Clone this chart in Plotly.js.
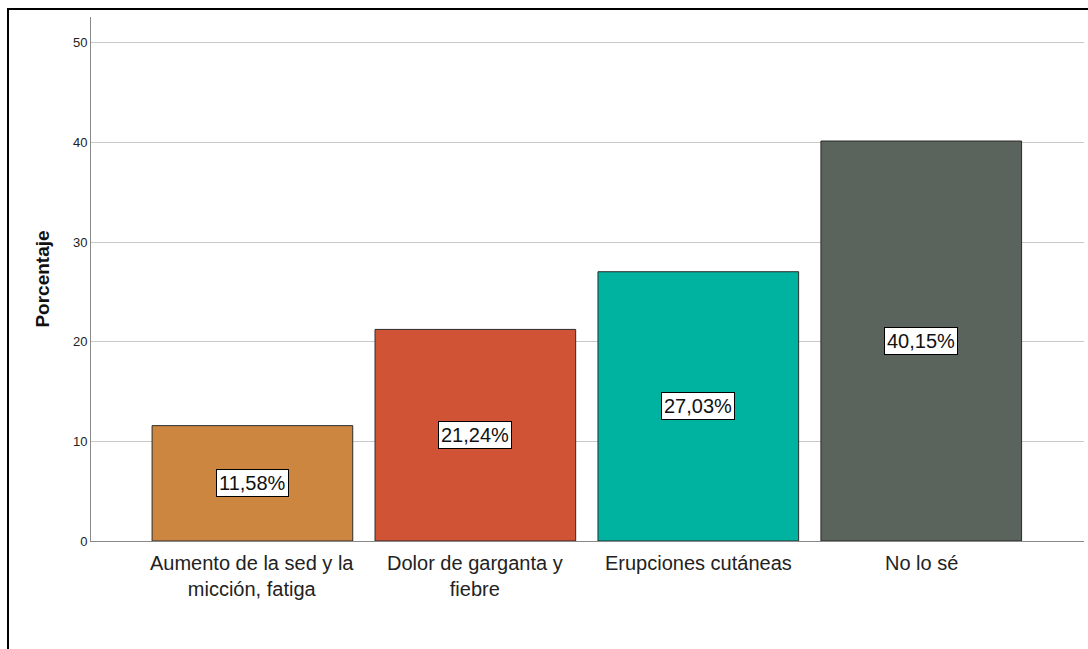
<!DOCTYPE html>
<html>
<head>
<meta charset="utf-8">
<script src="https://cdn.plot.ly/plotly-3.0.1.min.js"></script>
<style>
html,body{margin:0;padding:0;background:#fff;overflow:hidden;}
#frame{position:absolute;left:7px;top:8px;width:1100px;height:660px;border:2px solid #000;box-sizing:border-box;pointer-events:none;z-index:10;}
#chart{position:absolute;left:0;top:0;width:1088px;height:649px;}
</style>
</head>
<body>
<div id="chart"></div>
<div id="frame"></div>
<script>
const categories = ["Aumento de la sed y la<br>micción, fatiga", "Dolor de garganta y<br>fiebre", "Erupciones cutáneas", "No lo sé"];
const values = [11.58, 21.24, 27.03, 40.15];
const labels = ["11,58%", "21,24%", "27,03%", "40,15%"];
const colors = ["#CC8640", "#D05336", "#00B3A0", "#5A635C"];
const yTicks = [0, 10, 20, 30, 40, 50];

const FONT = "Liberation Sans, Arial, sans-serif";
const xIdx = values.map((v, i) => i);

const trace = {
  type: "bar",
  x: xIdx,
  y: values,
  width: 0.9,
  marker: {color: colors, line: {color: "#2b2b2b", width: 1}},
  hoverinfo: "skip"
};

const annotations = values.map((v, i) => ({
  x: i, y: v / 2, xref: "x", yref: "y",
  text: labels[i], showarrow: false,
  bgcolor: "#fff", bordercolor: "#000", borderwidth: 1, borderpad: 2,
  font: {family: FONT, size: 20, color: "#111"}
}));

categories.forEach((c, i) => {
  annotations.push({
    x: i, y: 0, xref: "x", yref: "paper",
    xanchor: "center", yanchor: "top",
    yshift: -9,
    text: c, showarrow: false,
    font: {family: FONT, size: 20, color: "#222"}
  });
});

const layout = {
  width: 1088, height: 649,
  margin: {l: 91, r: 4, t: 17, b: 108},
  paper_bgcolor: "#fff", plot_bgcolor: "#fff",
  showlegend: false,
  xaxis: {
    range: [-0.724, 3.73],
    tickvals: xIdx, showticklabels: false,
    showgrid: false, zeroline: false,
    showline: true, linecolor: "#888", linewidth: 1,
    ticks: "", ticklen: 0
  },
  yaxis: {
    range: [0, 52.6],
    tickvals: yTicks, ticktext: yTicks.map(String),
    showgrid: true, gridcolor: "#c8c8c8", gridwidth: 1,
    zeroline: false, showline: true, linecolor: "#888", linewidth: 1,
    ticks: "", ticklen: 0,
    tickfont: {family: FONT, size: 13, color: "#222"},
    title: {text: "<b>Porcentaje</b>", standoff: 18,
      font: {family: FONT, size: 19, color: "#111"}}
  },
  annotations: annotations
};

Plotly.newPlot("chart", [trace], layout, {displayModeBar: false, staticPlot: true});
</script>
</body>
</html>
